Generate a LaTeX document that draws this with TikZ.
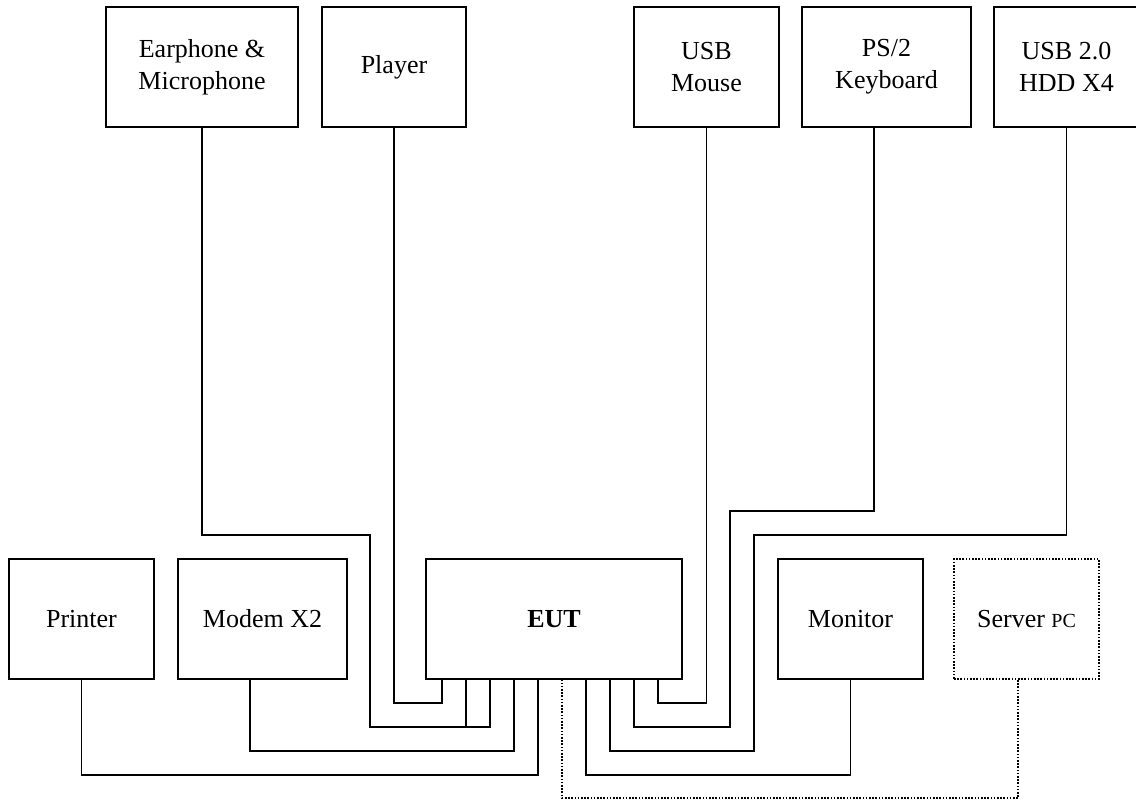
\documentclass[tikz,border=0pt]{standalone}
\usepackage{fontspec}
\setmainfont{Liberation Serif}
\usepackage{tikz}
\usetikzlibrary{calc}
\tikzstyle{box} = [draw, line width=0.9pt, inner sep=0pt, align=center, minimum height=60pt, font=\fontsize{13}{16}\selectfont]
\tikzstyle{cable} = [line width=0.9pt]
\tikzstyle{dotline} = [dash pattern=on 0.8pt off 0.8pt]

\begin{document}
\begin{tikzpicture}[x=0.5pt, y=-0.5pt]

\useasboundingbox (0, 0) rectangle (1136, 800);

% devices on top
\node [box, minimum width=96pt] (ear) at (202, 67) {Earphone \&\\Microphone};
\node [box, minimum width=72pt] (player) at (394, 67) {Player};
\node [box, minimum width=72.5pt] (mouse) at (706.5, 67) {USB\\Mouse};
\node [box, minimum width=84.5pt] (kbd) at (886.5, 67) {PS/2\\Keyboard};
\node [box, minimum width=72.5pt] (hdd) at (1066.5, 67) {USB 2.0\\HDD X4};

% devices below
\node [box, minimum width=72.5pt] (printer) at (81.5, 619) {Printer};
\node [box, minimum width=84.5pt] (modem) at (262.5, 619) {Modem X2};
\node [box, minimum width=128pt, font=\fontsize{13}{16}\selectfont\bfseries] (eut) at (554, 619) {EUT};
\node [box, minimum width=72.5pt] (monitor) at (850.5, 619) {Monitor};
\node [box, dotline, minimum width=72.5pt] (server) at (1026.5, 619) {Server {\fontsize{10}{12}\selectfont PC}};

% ports of the EUT and cable levels
\foreach \i/\x in {1/442, 2/466, 3/490, 4/514, 5/538, 6/562, 7/586, 8/610, 9/634, 10/658}
  \coordinate (p\i) at (\x, 679);
\foreach \i/\y in {1/703, 2/727, 3/751, 4/775, 5/798}
  \coordinate (l\i) at (0, \y);

\draw [cable] (player.south) |- (p1 |- l1) -- (p1);
\draw [cable] (ear.south) |- (370, 535) |- (p3 |- l2) -- (p3);
\draw [cable] (p2 |- l2) -- (p2);
\draw [cable] ($(modem.south)+(-12.5, 0)$) |- (p4 |- l3) -- (p4);
\draw [cable] (printer.south) |- (p5 |- l4) -- (p5);
\draw [cable, dotline] ($(server.south)+(-8.5, 0)$) |- (p6 |- l5) -- (p6);
\draw [cable] (monitor.south) |- (p7 |- l4) -- (p7);
\draw [cable] (hdd.south) |- (754, 535) |- (p8 |- l3) -- (p8);
\draw [cable] ($(kbd.south)+(-12.5, 0)$) |- (730, 511) |- (p9 |- l2) -- (p9);
\draw [cable] (mouse.south) |- (p10 |- l1) -- (p10);

\end{tikzpicture}
\end{document}
